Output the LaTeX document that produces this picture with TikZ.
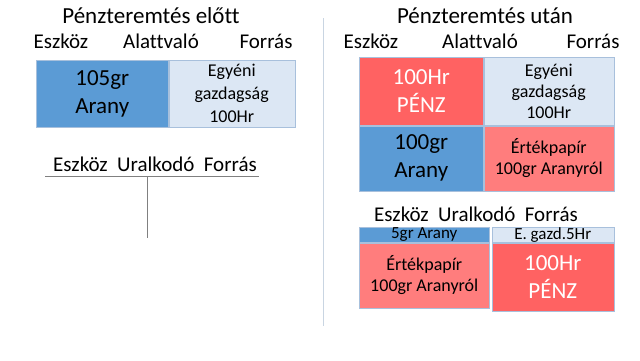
\documentclass[tikz,border=0pt]{standalone}
\usepackage{fontspec}
\setmainfont[Ligatures={NoCommon}]{Carlito}
\usetikzlibrary{positioning}

\definecolor{aranykek}{HTML}{5B9BD5}
\definecolor{forraskek}{HTML}{DCE7F4}
\definecolor{penzpiros}{HTML}{FF6262}
\definecolor{papirpiros}{HTML}{FF7D7D}
\definecolor{keret}{HTML}{A8C0DC}
\definecolor{valaszto}{HTML}{C9D5E2}

\tikzset{
  cella/.style={draw=keret, line width=0.5pt, inner sep=0pt, align=center, anchor=north west},
  nagy/.style={font=\fontsize{23}{28}\selectfont},
  kozep/.style={font=\fontsize{18}{21}\selectfont},
  kicsi/.style={font=\fontsize{17}{17}\selectfont},
  fej/.style={font=\fontsize{21}{25}\selectfont, anchor=base},
}

\begin{document}
\begin{tikzpicture}[x=1pt, y=-1pt]
                \useasboundingbox (0,0) rectangle (640,360);

                % elott
                \node[fej, font=\fontsize{23}{28}\selectfont] (cimelott) at (151,23) {Pénzteremtés előtt};
                \node[fej] (eszkoz1) at (61,48) {Eszköz};
                \node[fej] (alatt1) at (161,48) {Alattvaló};
                \node[fej] (forras1) at (266,48) {Forrás};

                \node[cella, nagy, fill=aranykek, minimum width=132pt, minimum height=67pt] (arany1) at (36,60) {105gr\\Arany};
                \node[cella, font=\fontsize{18}{23}\selectfont, fill=forraskek, minimum width=126pt, minimum height=67pt, right=0pt of arany1] (egyeni1) {Egyéni\\gazdagság\\100Hr};

                \node[fej] (uralkodo1) at (155,171) {Eszköz\hspace{0.45em}Uralkodó\hspace{0.45em}Forrás};
                \coordinate (tbal1) at (45,176);
                \coordinate (tjobb1) at (259,176);
                \coordinate (tfent1) at (147,176);
                \coordinate (tlent1) at (147,238);
                \draw[gray, line width=0.6pt] (tbal1) -- (tjobb1);
                \draw[gray, line width=0.6pt] (tfent1) -- (tlent1);

                % valaszto vonal
                \coordinate (vfent) at (323,18);
                \coordinate (vlent) at (323,326);
                \draw[valaszto, line width=1pt] (vfent) -- (vlent);

                % utan
                \node[fej, font=\fontsize{23}{28}\selectfont] (cimutan) at (485,23) {Pénzteremtés után};
                \node[fej] (eszkoz2) at (371,48) {Eszköz};
                \node[fej] (alatt2) at (480,48) {Alattvaló};
                \node[fej] (forras2) at (593,48) {Forrás};

                \node[cella, nagy, fill=penzpiros, text=white, minimum width=124pt, minimum height=68pt] (penz1) at (359,57) {100Hr\\PÉNZ};
                \node[cella, kozep, fill=forraskek, minimum width=130pt, minimum height=68pt, right=0pt of penz1] (egyeni2) {Egyéni\\gazdagság\\100Hr};
                \node[cella, nagy, fill=aranykek, minimum width=124pt, minimum height=65pt, below=0pt of penz1] (arany2) {100gr\\Arany};
                \node[cella, kozep, fill=papirpiros, minimum width=130pt, minimum height=65pt, below=0pt of egyeni2] (papir1) {Értékpapír\\100gr Aranyról};

                \node[fej] (uralkodo2) at (476,221) {Eszköz\hspace{0.45em}Uralkodó\hspace{0.45em}Forrás};
                \node[cella, kicsi, fill=aranykek, minimum width=130pt, minimum height=15pt] (arany3) at (359,227) {5gr Arany};
                \node[cella, kicsi, fill=forraskek, minimum width=122pt, minimum height=15pt, right=2pt of arany3] (egyeni3) {E. gazd.5Hr};
                \node[cella, kozep, fill=papirpiros, minimum width=130pt, minimum height=65pt, below=0pt of arany3] (papir2) {Értékpapír\\100gr Aranyról};
                \node[cella, nagy, fill=penzpiros, text=white, minimum width=122pt, minimum height=68pt, below=0pt of egyeni3] (penz2) {100Hr\\PÉNZ};

\end{tikzpicture}
\end{document}
